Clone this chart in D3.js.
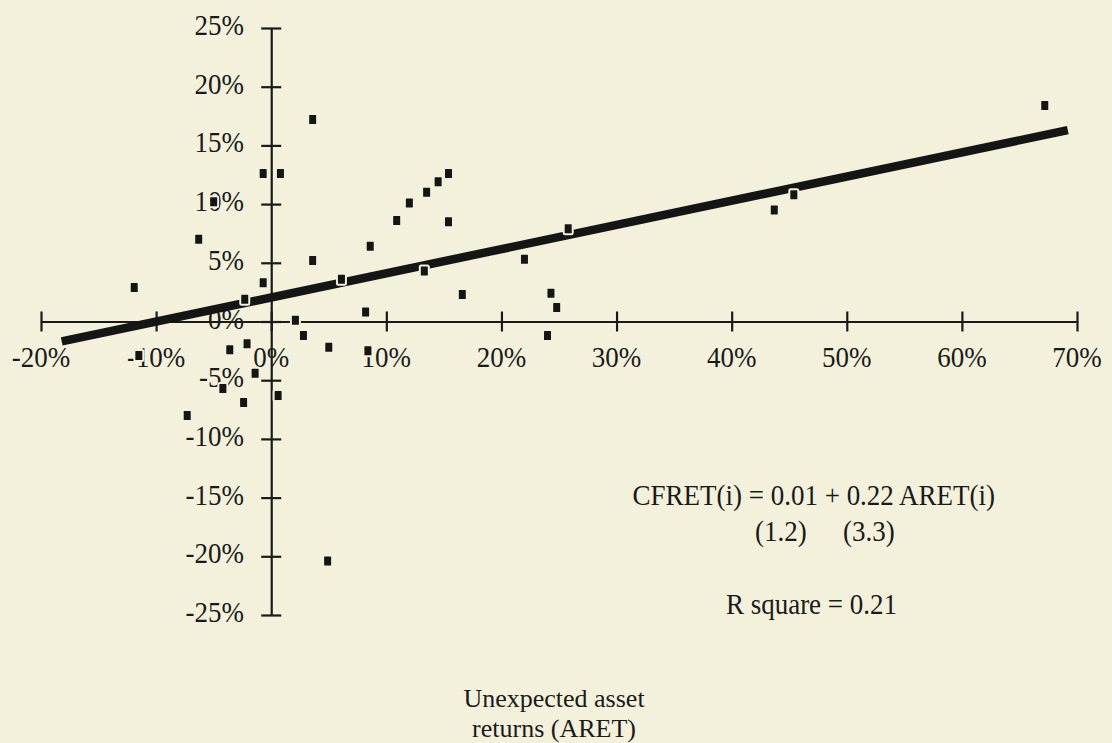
<!DOCTYPE HTML>
<html>
<head>
    <meta charset="UTF-8">
    <title>CFRET vs ARET</title>

    <style>
        body {
            margin: 0;
            padding: 0;
            background-color: #f3f1dc;
        }

        svg {
            display: block;
        }

        text {
            font-family: "Liberation Serif", "Times New Roman", serif;
            font-size: 30px;
            fill: #1a1a1a;
        }

        text.title {
            font-size: 26px;
        }

        .axis path, .axis line {
            stroke: #1a1a1a;
            stroke-width: 2.2px;
        }
    </style>

    <script src="https://d3js.org/d3.v7.min.js" charset="utf-8"></script>
</head>
<body>

<svg id="chart" width="1112" height="743"></svg>

<script>
    // unexpected asset returns (ARET), percent
    var aret = [3.6, -0.7, 0.8, 10.9, -6.3, 3.6, 8.6, -11.9, -0.7, 6.1,
        -2.3, 8.2, 2.1, 2.8, 5.0, 8.4, -5.0, -11.5, -3.6, -2.1,
        -1.4, -4.2, -2.4, 0.6, -7.3, 4.9, 15.4, 14.5, 13.5, 12.0,
        15.4, 13.3, 16.6, 22.0, 25.8, 24.3, 24.8, 24.0, 67.2, 45.4, 43.7];

    // CFRET, percent
    var cfret = [17.2, 12.6, 12.6, 8.6, 7.0, 5.2, 6.4, 2.9, 3.3, 3.6,
        1.9, 0.8, 0.1, -1.2, -2.2, -2.5, 10.2, -2.9, -2.4, -1.9,
        -4.4, -5.7, -6.9, -6.3, -8.0, -20.4, 12.6, 11.9, 11.0, 10.1,
        8.5, 4.3, 2.3, 5.3, 7.9, 2.4, 1.2, -1.2, 18.4, 10.8, 9.5];

    // fitted line as drawn (end points)
    var fitAret = [-18.2, 69.2];
    var fitCfret = [-1.7, 16.3];

    var xTicks = [-20, -10, 0, 10, 20, 30, 40, 50, 60, 70];
    var yTicks = [-25, -20, -15, -10, -5, 0, 5, 10, 15, 20, 25];

    var equation = "CFRET(i) = 0.01 + 0.22 ARET(i)";
    var tStats = ["(1.2)", "(3.3)"];
    var rSquare = "R square = 0.21";
    var xTitle = ["Unexpected asset", "returns (ARET)"];

    var squeeze = 0.9;

    var svg = d3.select("#chart");

    var x = d3.scaleLinear().domain([-20, 70]).range([41, 1077]);
    var y = d3.scaleLinear().domain([-25, 25]).range([615, 28]);

    var pct = function (d) { return d + "%"; };

    // horizontally condensed text, like the original typeface
    function label(g, tx, ty, str, anchor, sx) {
        return g.append("text")
                .attr("transform", "translate(" + tx + "," + ty + ") scale(" + (sx || squeeze) + ",1)")
                .attr("text-anchor", anchor || "start")
                .text(str);
    }

    // x axis at y = 0
    var xAxis = svg.append("g")
            .attr("class", "axis")
            .attr("transform", "translate(0," + y(0) + ")")
            .call(d3.axisBottom(x).tickValues(xTicks).tickSizeOuter(0).tickFormat(""));
    xAxis.selectAll(".tick line").attr("y1", -10).attr("y2", 10);

    // y axis at x = 0
    var yAxis = svg.append("g")
            .attr("class", "axis")
            .attr("transform", "translate(" + x(0) + ",0)")
            .call(d3.axisLeft(y).tickValues(yTicks).tickSizeOuter(0).tickFormat(""));
    yAxis.selectAll(".tick line").attr("x1", -10).attr("x2", 10);

    var labels = svg.append("g");
    xTicks.forEach(function (d) {
        label(labels, x(d), y(0) + 45, pct(d), "middle");
    });
    yTicks.forEach(function (d) {
        label(labels, 244, y(d) + 7, pct(d), "end");
    });

    // regression line
    var fit = fitAret.map(function (d, i) { return [d, fitCfret[i]]; });
    svg.append("path")
            .datum(fit)
            .attr("d", d3.line().x(function (d) { return x(d[0]); }).y(function (d) { return y(d[1]); }))
            .attr("stroke", "#151515")
            .attr("stroke-width", 8.5)
            .attr("fill", "none");

    // points
    var pts = aret.map(function (d, i) { return {a: d, c: cfret[i]}; });
    svg.append("g").selectAll("rect")
            .data(pts)
            .enter().append("rect")
            .attr("x", function (d) { return x(d.a) - 4.5; })
            .attr("y", function (d) { return y(d.c) - 5.5; })
            .attr("width", 9)
            .attr("height", 11)
            .attr("rx", 1.5)
            .attr("fill", "#151515")
            .attr("stroke", "#f3f1dc")
            .attr("stroke-width", 2);

    // annotation
    var note = svg.append("g");
    label(note, 995, 505, equation, "end");
    label(note, 755, 541, tStats[0]);
    label(note, 843, 541, tStats[1]);
    label(note, 897, 614, rSquare, "end");

    label(note, 554, 707, xTitle[0], "middle", 1).attr("class", "title");
    label(note, 554, 737, xTitle[1], "middle", 1).attr("class", "title");
</script>
</body>
</html>
